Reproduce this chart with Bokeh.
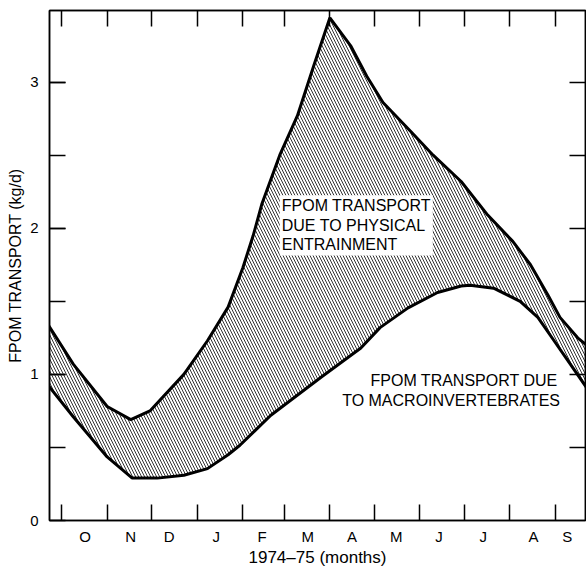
from bokeh.plotting import figure
from bokeh.models import (Range1d, FixedTicker, LinearAxis, Label,
                          CustomJSTickFormatter)
from bokeh.embed import file_html
from bokeh.resources import INLINE

# ---- data (x = days since 1 Oct 1974, y = kg/d) ----
month_starts = [0, 31, 61, 92, 123, 151, 182, 212, 243, 273, 304, 335]
month_labels = ["O", "N", "D", "J", "F", "M", "A", "M", "J", "J", "A", "S"]
month_label_pos = [16, 47, 73, 105, 136, 167, 197, 227, 256, 286, 320, 343]

y_label_ticks = [0, 1, 2, 3]
y_half_ticks = [0.5, 1, 1.5, 2, 2.5, 3]

total_day = [-9, 8, 31, 47, 60, 83, 99, 113, 123, 130, 136, 148, 160, 171,
             182, 196, 207, 218, 237, 252, 271, 289, 306, 318, 330, 338, 350, 356]
total_val = [1.34, 1.07, 0.78, 0.69, 0.75, 1.00, 1.23, 1.46, 1.73, 1.95, 2.17,
             2.50, 2.77, 3.11, 3.44, 3.25, 3.04, 2.86, 2.66, 2.50, 2.32, 2.09,
             1.91, 1.75, 1.54, 1.39, 1.25, 1.20]

macro_day = [-9, 8, 31, 48, 65, 83, 99, 113, 121, 142, 176, 203, 216, 235,
             255, 271, 277, 293, 311, 323, 334, 345, 356]
macro_val = [0.925, 0.71, 0.435, 0.29, 0.29, 0.31, 0.355, 0.45, 0.515, 0.72,
             0.98, 1.18, 1.32, 1.455, 1.56, 1.605, 1.61, 1.59, 1.50, 1.39,
             1.23, 1.07, 0.91]

FONT = "Liberation Sans"

p = figure(width=586, height=569, output_backend="svg", toolbar_location=None,
           x_range=Range1d(-8.1, 355.3), y_range=Range1d(0, 3.49),
           min_border_left=49, min_border_top=10, min_border_right=1,
           min_border_bottom=45)
p.xgrid.visible = False
p.ygrid.visible = False
p.outline_line_color = "black"
p.outline_line_width = 1.5
p.background_fill_color = None
p.border_fill_color = "white"

# hatched band between the curves
band_x = total_day + macro_day[::-1]
band_y = total_val + macro_val[::-1]
p.patch(band_x, band_y, fill_alpha=0, line_color=None,
        hatch_pattern="\\", hatch_scale=6, hatch_weight=0.8,
        hatch_color="black")

p.line(total_day, total_val, line_color="black", line_width=3)
p.line(macro_day, macro_val, line_color="black", line_width=3)

# ---- axes ----
xa = p.xaxis[0]
xa.ticker = FixedTicker(ticks=month_label_pos, minor_ticks=month_starts)
xa.major_label_overrides = {pos: lab for pos, lab in zip(month_label_pos, month_labels)}
xa.major_tick_in = 0
xa.major_tick_out = 0
xa.minor_tick_in = 16
xa.minor_tick_out = 0
xa.minor_tick_line_width = 1.5
xa.minor_tick_line_color = "black"
xa.axis_line_width = 1.5
xa.major_label_standoff = 7
xa.major_label_text_font = FONT
xa.major_label_text_font_size = "15px"
xa.major_label_text_color = "black"
xa.axis_label = "1974\u201375 (months)"
xa.axis_label_text_font = FONT
xa.axis_label_text_font_size = "17px"
xa.axis_label_text_font_style = "normal"
xa.axis_label_text_color = "black"
xa.axis_label_standoff = 0

ya = p.yaxis[0]
ya.ticker = FixedTicker(ticks=y_label_ticks, minor_ticks=y_half_ticks)
ya.major_tick_in = 16
ya.major_tick_out = 0
ya.major_tick_line_width = 1.5
ya.major_tick_line_color = "black"
ya.minor_tick_in = 16
ya.minor_tick_out = 0
ya.minor_tick_line_width = 1.5
ya.minor_tick_line_color = "black"
ya.axis_line_width = 1.5
ya.major_label_standoff = 11
ya.major_label_text_font = FONT
ya.major_label_text_font_size = "15px"
ya.major_label_text_color = "black"
ya.axis_label = "FPOM TRANSPORT (kg/d)"
ya.axis_label_text_font = FONT
ya.axis_label_text_font_size = "16px"
ya.axis_label_text_font_style = "normal"
ya.axis_label_text_color = "black"
ya.axis_label_standoff = 3

blank = CustomJSTickFormatter(code="return '';")
top = LinearAxis(ticker=FixedTicker(ticks=month_starts), formatter=blank,
                 major_tick_in=16, major_tick_out=0, major_tick_line_width=1.5,
                 major_tick_line_color="black",
                 axis_line_width=1.5, major_label_standoff=0,
                 major_label_text_font_size="0px")
right = LinearAxis(ticker=FixedTicker(ticks=y_half_ticks), formatter=blank,
                   major_tick_in=16, major_tick_out=0, major_tick_line_width=1.5,
                   major_tick_line_color="black",
                   axis_line_width=1.5, major_label_standoff=0,
                   major_label_text_font_size="0px")
p.add_layout(top, "above")
p.add_layout(right, "right")

# ---- annotations ----
p.add_layout(Label(x=148.0, y=2.225, text="FPOM TRANSPORT\nDUE TO PHYSICAL\nENTRAINMENT",
                   text_align="left", text_baseline="top", text_font=FONT,
                   text_font_size="16px", text_color="black", text_line_height=1.15,
                   background_fill_color="white", padding=2))
p.add_layout(Label(x=336.5, y=0.955, text="FPOM TRANSPORT DUE",
                   text_align="right", text_baseline="alphabetic", text_font=FONT,
                   text_font_size="16px", text_color="black"))
p.add_layout(Label(x=338.0, y=0.82, text="TO MACROINVERTEBRATES",
                   text_align="right", text_baseline="alphabetic", text_font=FONT,
                   text_font_size="16px", text_color="black"))

open("out.html", "w").write(file_html(p, INLINE))
